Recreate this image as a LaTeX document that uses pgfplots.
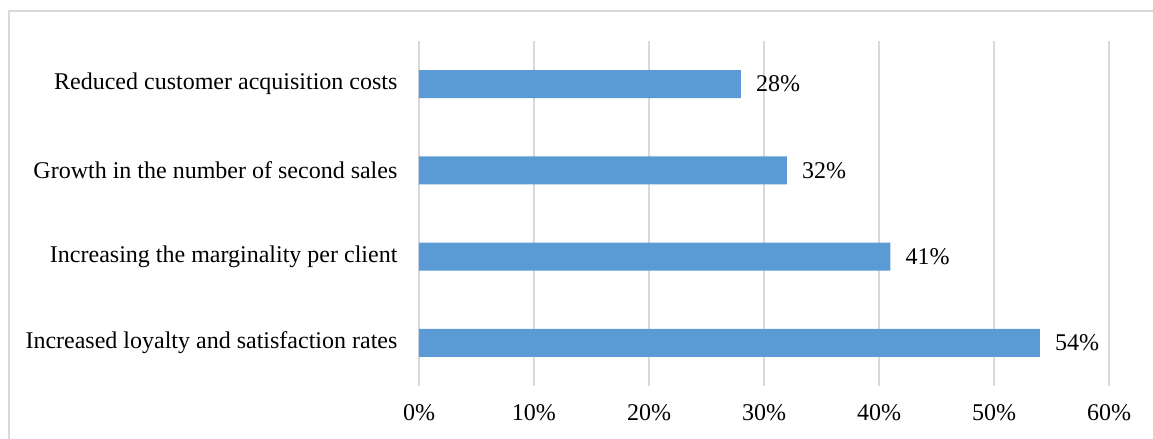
\documentclass[border=0pt]{standalone}
\usepackage{pgfplots}
\pgfplotsset{compat=1.18}
\usepackage{fontspec}
\setmainfont{Liberation Serif}
\definecolor{barblue}{HTML}{5B9BD5}
\definecolor{gridgray}{HTML}{D9D9D9}
\begin{document}
\begin{tikzpicture}[x=1pt,y=1pt]
\useasboundingbox (0,0) rectangle (576.5,219.5);
\draw[gridgray, line width=0.6pt] (4.5,-20) -- (4.5,214) -- (600,214);
\begin{axis}[
  at={(209.5pt,26.5pt)}, anchor=south west,
  scale only axis, width=345pt, height=172.5pt,
  xbar, bar width=14pt,
  xmin=0, xmax=60, ymin=-0.5, ymax=3.5,
  xtick={0,10,20,30,40,50,60},
  xticklabels={0\%,10\%,20\%,30\%,40\%,50\%,60\%},
  ytick={0,1,2,3},
  yticklabels={Increased loyalty and satisfaction rates,Increasing the marginality per client,Growth in the number of second sales,Reduced customer acquisition costs},
  axis line style={draw=none},
  tick style={draw=none},
  xmajorgrids, major grid style={gridgray, line width=0.75pt},
  font=\fontsize{12}{14}\selectfont,
  xticklabel style={font=\fontsize{12}{14}\selectfont, yshift=-5.5pt},
  yticklabel style={font=\fontsize{12}{14}\selectfont, xshift=-3pt},
  nodes near coords={\pgfmathprintnumber[assume math mode=true]{\pgfplotspointmeta}\%},
  every node near coord/.append style={font=\fontsize{12}{14}\selectfont, anchor=west, xshift=4pt, black},
]
\addplot[fill=barblue, draw=none] coordinates {(54,0) (41,1) (32,2) (28,3)};
\end{axis}
\end{tikzpicture}
\end{document}
